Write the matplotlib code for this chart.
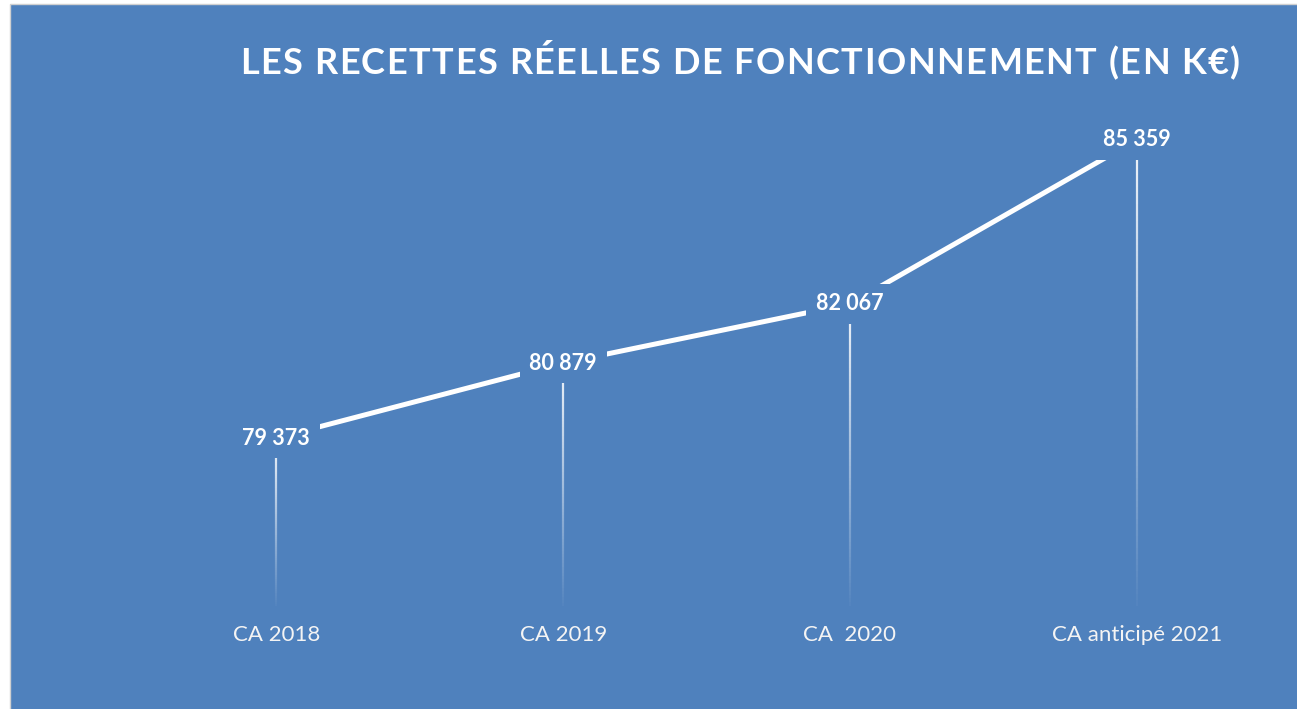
#!/usr/bin/env python3
"""Recettes réelles de fonctionnement (en k€) — line with gradient drop lines."""
import numpy as np
import matplotlib
matplotlib.use('Agg')
import matplotlib.pyplot as plt
from matplotlib.collections import LineCollection
from matplotlib.patches import Rectangle
from matplotlib.font_manager import FontProperties
from matplotlib.textpath import TextToPath

categories = ['CA 2018', 'CA 2019', 'CA  2020', 'CA anticipé 2021']
values = [79373, 80879, 82067, 85359]
value_labels = ['79 373', '80 879', '82 067', '85 359']
title_text = 'LES RECETTES RÉELLES DE FONCTIONNEMENT (EN K€)'

BG = '#4f81bd'
plt.rcParams['font.family'] = ['Lato', 'DejaVu Sans']

fig = plt.figure(figsize=(12.97, 7.09), dpi=100)
fig.patch.set_facecolor('white')
# chart area with thin grey border (left/top visible)
fig.patches.append(Rectangle((10 / 1297, -0.01), 1.0, 1 - 3.5 / 709 + 0.01,
                             transform=fig.transFigure, facecolor=BG,
                             edgecolor='#d0d0d0', linewidth=1.0, zorder=-5))

ax = fig.add_axes([133 / 1297, 1 - 606 / 709, (1280 - 133) / 1297, (606 - 108) / 709])
ax.set_zorder(1)
ax.set_facecolor('none')
ax.set_xlim(-0.5, len(categories) - 0.5)
ax.set_ylim(76000, 86000)
for s in ax.spines.values():
    s.set_visible(False)
ax.set_yticks([])
ax.set_xticks(range(len(categories)))
ax.set_xticklabels(categories, color='#f4f4f4', fontsize=16)
ax.tick_params(axis='x', length=0, pad=14)

x = np.arange(len(values))
ymin = ax.get_ylim()[0]

# drop lines fading from white at top to transparent at the axis
n = 80
segs, cols = [], []
for xi, v in zip(x, values):
    ys = np.linspace(v, ymin, n + 1)
    for k in range(n):
        segs.append([(xi, ys[k]), (xi, ys[k + 1])])
        a = 0.9 * (1 - k / n) + 0.02
        cols.append((1, 1, 1, a))
ax.add_collection(LineCollection(segs, colors=cols, linewidths=1.6, zorder=2,
                                 capstyle='butt'))

ax.plot(x, values, color='white', linewidth=3.6, zorder=3, solid_capstyle='butt')

for xi, v, lab in zip(x, values, value_labels):
    ax.text(xi, v, lab, ha='center', va='center', color='white', fontsize=15.5,
            fontweight='bold', zorder=4,
            bbox=dict(boxstyle='square,pad=0.45', facecolor=BG, edgecolor='none'))

# letter-spaced title, drawn char by char
tsize = 26
prop = FontProperties(family='Lato', weight='bold', size=tsize)
t2p = TextToPath()


def _w(s):
    return t2p.get_text_width_height_descent(s, prop, ismath=False)[0] * 100 / 72


advs = [_w('H' + c + 'H') - _w('HH') for c in title_text]
x0, x1 = 240, 1240
gap = (x1 - x0 - sum(advs)) / (len(title_text) - 1)
cx = x0
for c, a in zip(title_text, advs):
    fig.text(cx / 1297, 1 - 63 / 709, c, ha='left', va='center',
             color='white', fontproperties=prop)
    cx += a + gap

fig.savefig('out.png', dpi=100, facecolor=fig.get_facecolor())
